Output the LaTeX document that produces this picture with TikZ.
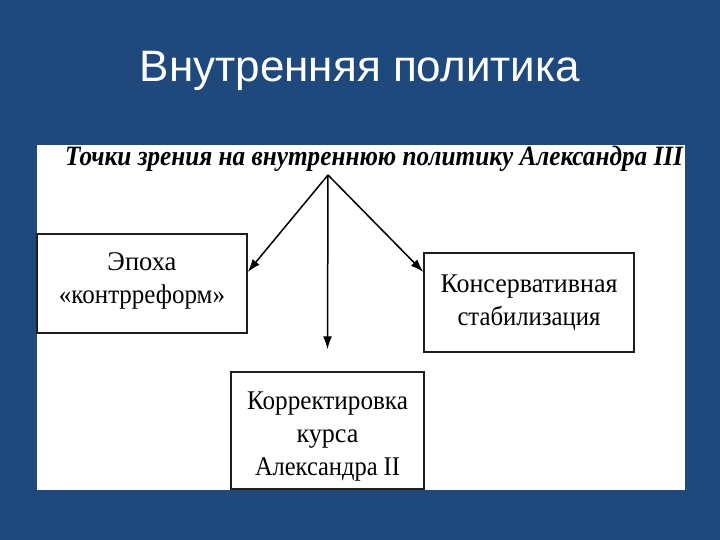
\documentclass[tikz,border=0pt]{standalone}
\usepackage{fontspec}
\usepackage{graphicx}
\setmainfont{Liberation Serif}
\newfontfamily\titlefont{Liberation Sans}
\usetikzlibrary{arrows.meta}
\definecolor{slideblue}{RGB}{31,73,125}
\definecolor{boxline}{RGB}{30,30,30}
\newcommand{\fitw}[2]{\resizebox{#1pt}{\height}{#2}}
\begin{document}
\begin{tikzpicture}[x=1pt,y=-1pt,
  box/.style={draw=boxline,line width=1.4pt,fill=white,align=center,
    font=\fontsize{27}{33}\selectfont,inner sep=0pt},
  arr/.style={line width=1.5pt,draw=black,-{Latex[length=13pt,width=9pt]}}]
\useasboundingbox (0,0) rectangle (720,540);
\fill[slideblue] (0,0) rectangle (720,540);
\fill[white] (37,145) rectangle (685,490);
\node[anchor=base,text=white,font=\titlefont\fontsize{44}{50}\selectfont] (title) at (360,82) {Внутренняя политика};
\node[anchor=base,font=\bfseries\itshape\fontsize{28}{32}\selectfont,inner sep=0pt] (head) at (374,166) {\fitw{618}{Точки зрения на внутреннюю политику Александра III}};
\coordinate (src) at (328,175);
\node[box,minimum width=210pt,minimum height=99pt] (epoha) at (142,283.5)
  {\fitw{69}{Эпоха}\\\fitw{166}{«контрреформ»}\rule[-10pt]{0pt}{10pt}};
\node[box,minimum width=210pt,minimum height=99pt] (kons) at (529,302.5)
  {\fitw{177}{Консервативная}\\\fitw{143}{стабилизация}};
\node[box,minimum width=193pt,minimum height=117pt] (kurs) at (327.5,430.5)
  {\rule{0pt}{29pt}\fitw{161}{Корректировка}\\\fitw{62}{курса}\\\fitw{145}{Александра II}};
\draw[arr] (src) -- ([yshift=11.5pt]epoha.east);
\draw[arr] (src) -- ([yshift=30.5pt]kons.west);
\draw[arr] (src) -- ([yshift=22pt]kurs.north);
\end{tikzpicture}
\end{document}
